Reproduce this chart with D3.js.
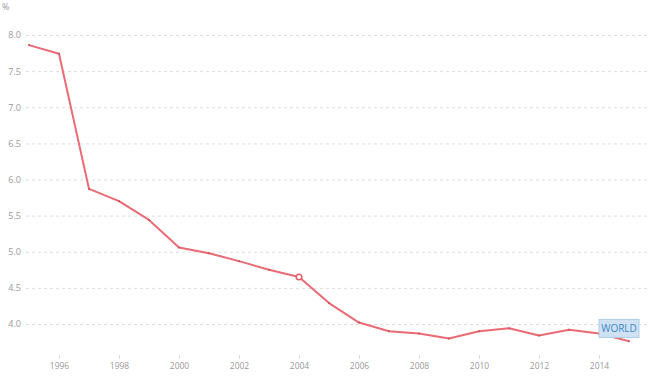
<!DOCTYPE html>
<html>
<head>
<meta charset="utf-8">
<script src="https://cdn.jsdelivr.net/npm/d3@7"></script>
<style>
  body { margin: 0; background: #fff; }
  text { font-family: "Open Sans", sans-serif; }
</style>
</head>
<body>
<div id="chart"></div>
<script>
var years = [1995, 1996, 1997, 1998, 1999, 2000, 2001, 2002, 2003, 2004,
  2005, 2006, 2007, 2008, 2009, 2010, 2011, 2012, 2013, 2014, 2015];
var values = [7.86, 7.74, 5.87, 5.70, 5.44, 5.06, 4.98, 4.87, 4.75, 4.65,
  4.29, 4.02, 3.90, 3.87, 3.80, 3.90, 3.94, 3.84, 3.92, 3.87, 3.76];
var yTicks = [4.0, 4.5, 5.0, 5.5, 6.0, 6.5, 7.0, 7.5, 8.0];
var xTicks = [1996, 1998, 2000, 2002, 2004, 2006, 2008, 2010, 2012, 2014];
var seriesName = "WORLD";
var highlightYear = 2004;

var svgWidth = 650;
var svgHeight = 390;

var svg = d3.select("#chart")
  .append("svg")
  .attr("width", svgWidth)
  .attr("height", svgHeight);

var x = d3.scaleLinear()
  .domain([1995, 2015])
  .range([29, 629]);

var y = d3.scaleLinear()
  .domain([4.0, 8.0])
  .range([324, 35]);

// unit label
svg.append("text")
  .attr("x", 2)
  .attr("y", 10)
  .style("font-size", "9px")
  .style("fill", "#999")
  .text("%");

// horizontal grid + y labels
var yAxis = svg.append("g")
  .attr("transform", "translate(26,0)")
  .call(d3.axisRight(y)
    .tickValues(yTicks)
    .tickSize(624)
    .tickFormat(d3.format(".1f")));
yAxis.select(".domain").remove();
yAxis.selectAll(".tick line")
  .attr("stroke", "#ddd")
  .attr("stroke-dasharray", "3,3");
yAxis.selectAll(".tick text")
  .attr("x", -5)
  .attr("dy", "0.32em")
  .attr("text-anchor", "end")
  .style("font-size", "9px")
  .style("fill", "#999");

// x axis
var xAxis = svg.append("g")
  .attr("transform", "translate(0,355)")
  .call(d3.axisBottom(x)
    .tickValues(xTicks)
    .tickSize(4)
    .tickFormat(d3.format("d")));
xAxis.select(".domain").remove();
xAxis.selectAll(".tick line").attr("stroke", "#ddd");
xAxis.selectAll(".tick text")
  .attr("y", 8)
  .style("font-size", "8.5px")
  .style("fill", "#999");

// line
var line = d3.line()
  .x((d, i) => x(years[i]))
  .y(d => y(d));

svg.append("path")
  .datum(values)
  .attr("fill", "none")
  .attr("stroke", "#ea6b73")
  .attr("stroke-width", 2)
  .attr("stroke-linejoin", "round")
  .attr("d", line);

// small point markers
svg.selectAll("circle.pt")
  .data(values)
  .enter()
  .append("circle")
  .attr("class", "pt")
  .attr("cx", (d, i) => x(years[i]))
  .attr("cy", d => y(d))
  .attr("r", 1)
  .attr("fill", "#c9505a");

// highlighted point
var hi = years.indexOf(highlightYear);
svg.append("circle")
  .attr("cx", x(years[hi]))
  .attr("cy", y(values[hi]))
  .attr("r", 2.8)
  .attr("fill", "#fff")
  .attr("stroke", "#e35d67")
  .attr("stroke-width", 1.5);

// series label
var lastX = x(2014);
var lastY = y(3.87);
var label = svg.append("g")
  .attr("transform", `translate(${lastX}, ${lastY - 14})`);
label.append("rect")
  .attr("width", 40)
  .attr("height", 18)
  .attr("fill", "#cfe2f3")
  .attr("stroke", "#aecde9")
  .attr("stroke-width", 1);
label.append("text")
  .attr("x", 20)
  .attr("y", 13)
  .attr("text-anchor", "middle")
  .style("font-size", "10px")
  .style("fill", "#3f87c4")
  .text(seriesName);
</script>
</body>
</html>
